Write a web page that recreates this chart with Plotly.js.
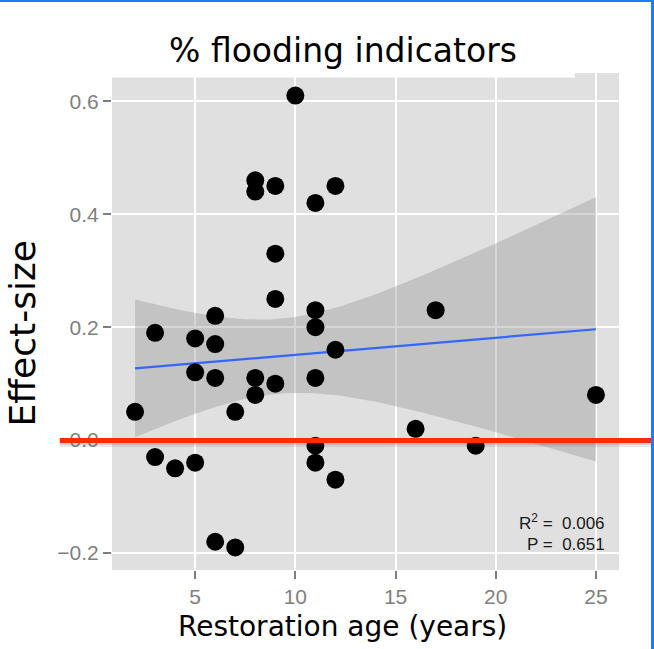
<!DOCTYPE html>
<html>
<head>
<meta charset="utf-8">
<script src="https://cdn.plot.ly/plotly-3.0.1.min.js"></script>
<style>
  html, body { margin: 0; padding: 0; background: #ffffff; }
  #wrap { position: relative; width: 654px; height: 649px; overflow: hidden; }
  #chart { position: absolute; left: 0; top: 0; width: 654px; height: 649px; }
  .frame-top { position: absolute; left: 0; top: 0; width: 654px; height: 2px; background: #1a7ff2; }
  .frame-right { position: absolute; left: 651px; top: 0; width: 3px; height: 649px; background: #1a7ff2; }
</style>
</head>
<body>
<div id="wrap">
  <div id="chart"></div>
  <div class="frame-top"></div>
  <div class="frame-right"></div>
</div>
<script>
// Restoration age (years) of each site and its effect-size on flooding indicators
const restorationAge = [2, 3, 3, 4, 5, 5, 5, 6, 6, 6, 6, 7, 7, 8, 8, 8, 8,
                        9, 9, 9, 9, 10, 11, 11, 11, 11, 11, 11, 12, 12, 12,
                        16, 17, 19, 25];
const effectSize = [0.05, 0.19, -0.03, -0.05, 0.18, 0.12, -0.04, 0.22, 0.17, 0.11, -0.18,
                    0.05, -0.19, 0.46, 0.44, 0.11, 0.08, 0.45, 0.33, 0.25, 0.10,
                    0.61, 0.42, 0.23, 0.20, 0.11, -0.01, -0.04, 0.45, 0.16, -0.07,
                    0.02, 0.23, -0.01, 0.08];

const xTickVals = [5, 10, 15, 20, 25];
const yTickVals = [-0.2, 0.0, 0.2, 0.4, 0.6];
const yTickText = ['\u22120.2', '0.0', '0.2', '0.4', '0.6'];

const chartTitle = '% flooding indicators';
const xTitle = 'Restoration age (years)';
const yTitle = 'Effect-size';
const r2Label = 'R<sup>2</sup> =  0.006';
const pLabel = 'P =  0.651';

// Ordinary least-squares fit with a 95% confidence band (like geom_smooth(method = "lm"))
function linearFit(xs, ys) {
  const n = xs.length;
  const mx = xs.reduce((a, b) => a + b, 0) / n;
  const my = ys.reduce((a, b) => a + b, 0) / n;
  let sxx = 0, sxy = 0, syy = 0;
  for (let i = 0; i < n; i++) {
    sxx += (xs[i] - mx) ** 2;
    sxy += (xs[i] - mx) * (ys[i] - my);
    syy += (ys[i] - my) ** 2;
  }
  const slope = sxy / sxx;
  const icpt = my - slope * mx;
  const s = Math.sqrt((syy - slope * sxy) / (n - 2));
  // Student t quantile (0.975) by Cornish-Fisher expansion
  const df = n - 2, z = 1.959964;
  const t = z + (z ** 3 + z) / (4 * df) + (5 * z ** 5 + 16 * z ** 3 + 3 * z) / (96 * df * df);
  const lo = Math.min(...xs), hi = Math.max(...xs);
  const gx = [], fit = [], upper = [], lower = [];
  const steps = 80;
  for (let k = 0; k <= steps; k++) {
    const x = lo + (hi - lo) * k / steps;
    const yh = icpt + slope * x;
    const se = s * Math.sqrt(1 / n + (x - mx) ** 2 / sxx);
    gx.push(x); fit.push(yh); upper.push(yh + t * se); lower.push(yh - t * se);
  }
  return { gx, fit, upper, lower };
}

const model = linearFit(restorationAge, effectSize);

const traces = [
  {
    x: model.gx.concat(model.gx.slice().reverse()),
    y: model.upper.concat(model.lower.slice().reverse()),
    type: 'scatter', mode: 'lines', fill: 'toself',
    fillcolor: 'rgba(153,153,153,0.4)', line: { width: 0 },
    hoverinfo: 'skip', showlegend: false
  },
  {
    x: model.gx, y: model.fit,
    type: 'scatter', mode: 'lines',
    line: { color: '#3366FF', width: 2.2 },
    showlegend: false
  },
  {
    x: restorationAge, y: effectSize,
    type: 'scatter', mode: 'markers',
    marker: { color: '#000000', size: 18, line: { width: 0 } },
    showlegend: false
  }
];

const tickFont = { family: 'Liberation Sans, Arial, sans-serif', size: 21, color: '#7f7f7f' };
const slideFont = 'DejaVu Sans, Verdana, sans-serif';
const noteFont = { family: 'Liberation Sans, Arial, sans-serif', size: 17, color: '#1a1a1a' };

const layout = {
  width: 654, height: 649,
  margin: { l: 112, r: 35, t: 73, b: 79 },
  paper_bgcolor: '#ffffff',
  plot_bgcolor: '#e0e0e0',
  showlegend: false,
  title: {
    text: chartTitle,
    font: { family: slideFont, size: 33, color: '#000000' },
    x: 0.5245, xanchor: 'center',
    y: 0.923, yanchor: 'middle'
  },
  xaxis: {
    range: [0.85, 26.15],
    tickvals: xTickVals,
    ticks: 'outside', ticklen: 8, tickwidth: 2, tickcolor: '#7f7f7f',
    tickfont: tickFont,
    showgrid: true, gridcolor: '#ffffff', gridwidth: 2,
    zeroline: false, showline: false
  },
  yaxis: {
    range: [-0.23, 0.65],
    tickvals: yTickVals, ticktext: yTickText,
    ticks: 'outside', ticklen: 8, tickwidth: 2, tickcolor: '#7f7f7f',
    tickfont: tickFont,
    showgrid: true, gridcolor: '#ffffff', gridwidth: 2,
    zeroline: false, showline: false
  },
  annotations: [
    {
      text: xTitle, xref: 'paper', yref: 'paper',
      x: 0.4556, y: -0.1127, xanchor: 'center', yanchor: 'middle',
      showarrow: false, font: { family: slideFont, size: 28, color: '#000000' }
    },
    {
      text: yTitle, xref: 'paper', yref: 'paper', textangle: -90,
      x: -0.1775, y: 0.476, xanchor: 'center', yanchor: 'middle',
      showarrow: false, font: { family: slideFont, size: 36, color: '#000000' }
    },
    {
      text: r2Label, xref: 'paper', yref: 'paper',
      x: 0.976, y: 0.0966, xanchor: 'right', yanchor: 'middle',
      showarrow: false, font: noteFont
    },
    {
      text: pLabel, xref: 'paper', yref: 'paper',
      x: 0.976, y: 0.0523, xanchor: 'right', yanchor: 'middle',
      showarrow: false, font: noteFont
    }
  ],
  shapes: [
    // white strip of the slide's title box overlapping the panel top
    {
      type: 'rect', layer: 'above', xref: 'paper', yref: 'paper',
      x0: -0.01, x1: 0.913, ysizemode: 'pixel', yanchor: 1, y0: -4.5, y1: 1,
      fillcolor: '#ffffff', line: { width: 0 }
    },
    // soft grey shadow under the zero reference line
    {
      type: 'rect', layer: 'above', xref: 'paper', yref: 'y',
      x0: -0.103, x1: 1.1, ysizemode: 'pixel', yanchor: 0, y0: -7, y1: -2,
      fillcolor: 'rgba(90,90,90,0.14)', line: { width: 0 }
    },
    {
      type: 'rect', layer: 'above', xref: 'paper', yref: 'y',
      x0: -0.103, x1: 1.1, ysizemode: 'pixel', yanchor: 0, y0: -5, y1: -2,
      fillcolor: 'rgba(90,90,90,0.16)', line: { width: 0 }
    },
    // red zero reference line
    {
      type: 'rect', layer: 'above', xref: 'paper', yref: 'y',
      x0: -0.103, x1: 1.1, ysizemode: 'pixel', yanchor: 0, y0: -3, y1: 2,
      fillcolor: '#ff2a00', line: { width: 0 }
    }
  ]
};

Plotly.newPlot('chart', traces, layout, { staticPlot: true, displayModeBar: false });
</script>
</body>
</html>
